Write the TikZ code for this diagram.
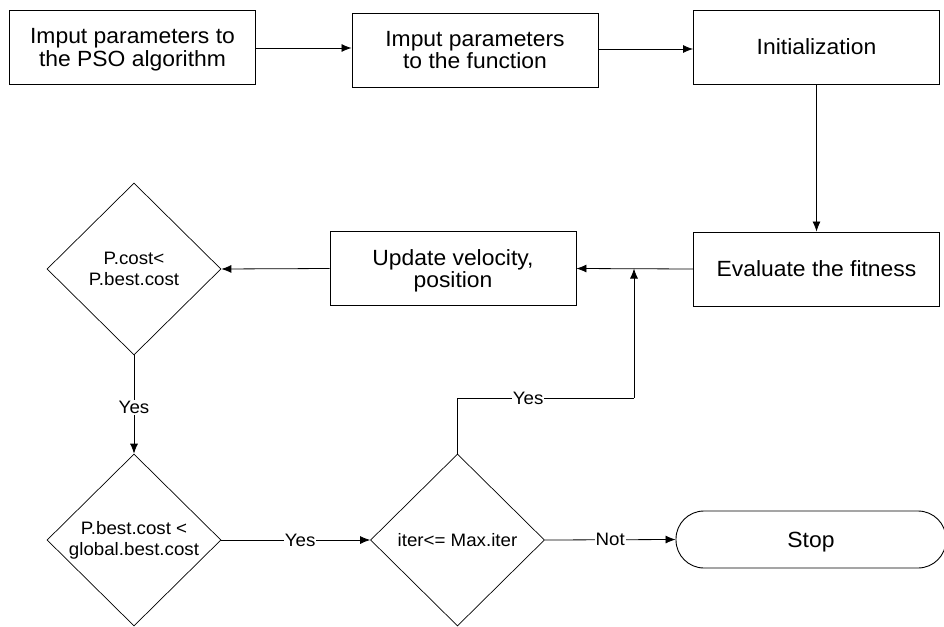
\documentclass[tikz,border=0pt]{standalone}
\usepackage{fontspec}
\setmainfont{Liberation Sans}
\newfontfamily\wfont[FakeStretch=1.04]{Liberation Sans}
\usetikzlibrary{shapes.geometric,arrows.meta}
\begin{document}
\begin{tikzpicture}[x=1pt,y=-1pt,
  every node/.style={font=\wfont},
  pbox/.style={draw, line width=0.9pt, minimum width=246pt, minimum height=74pt, inner sep=0pt, align=center, font=\wfont\fontsize{22}{22.5}\selectfont},
  dbox/.style={draw, line width=0.7pt, shape=diamond, aspect=1, minimum width=174pt, minimum height=172pt, inner sep=0pt, align=center, font=\wfont\fontsize{18}{21}\selectfont},
  sbox/.style={draw, line width=0.9pt, rounded corners=28pt, minimum width=270pt, minimum height=57pt, inner sep=0pt, font=\wfont\fontsize{22}{22.5}\selectfont},
  conn/.style={line width=0.8pt, -{Latex[length=10pt,width=8pt]}},
  lbl/.style={fill=white, inner sep=1pt, font=\wfont\fontsize{18}{20}\selectfont}]
\useasboundingbox (0,0) rectangle (944,626);
\node[pbox, text depth=-4pt] (b1) at (132.5,47.5) {Imput parameters to\\the PSO algorithm};
\node[pbox, text depth=-1pt] (b2) at (475,50) {Imput parameters\\to the function};
\node[pbox, text depth=0pt] (b3) at (816.5,47) {Initialization};
\node[pbox, text depth=0pt] (ev) at (816.5,269) {Evaluate the fitness};
\node[pbox, text depth=0pt] (up) at (453,268.5) {Update velocity,\\position};
\node[dbox] (d1) at (134,269) {P.cost<\\P.best.cost};
\node[dbox] (d2) at (134,540) {P.best.cost <\\global.best.cost};
\node[dbox, text depth=0pt] (d3) at (457.5,540) {iter<= Max.iter};
\node[sbox, text depth=0pt] (st) at (811,539.5) {Stop};
\coordinate (j) at (634,268.5);
\coordinate (k) at (634,398);
\draw[conn] (b1.east |- 0,48) -- (b2.west |- 0,48);
\draw[conn] (b2.east |- 0,49) -- (b3.west |- 0,49);
\draw[conn] (b3.south) -- (ev.north);
\draw[conn] (ev.west) -- (up.east);
\draw[conn] (up.west) -- (d1.east);
\draw[conn] (d1.south) -- node[lbl, pos=0.53] {Yes} (d2.north);
\draw[conn] (d2.east) -- node[lbl, pos=0.53] {Yes} (d3.west);
\draw[line width=0.8pt] (d3.north) |- node[lbl, pos=0.7] {Yes} (k);
\draw[conn] (k) -- (j);
\draw[conn] (d3.east) -- node[lbl, pos=0.5] {Not} (st.west);
\end{tikzpicture}
\end{document}
